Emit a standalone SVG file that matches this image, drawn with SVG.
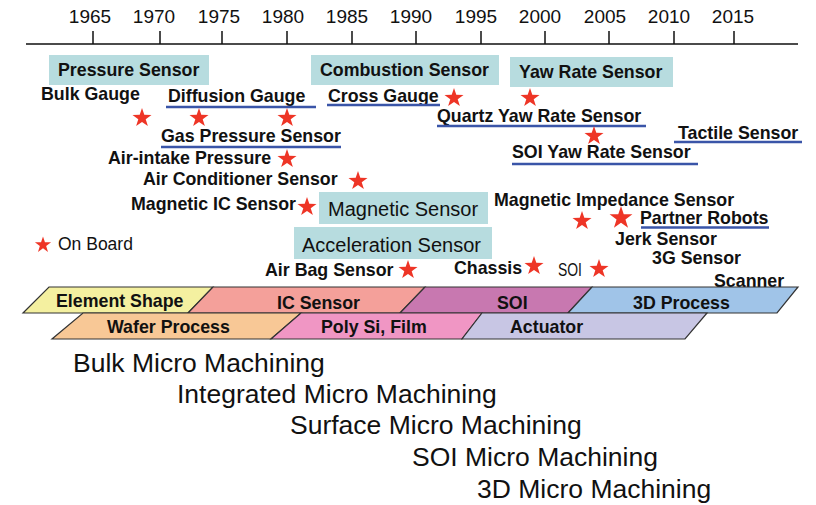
<svg xmlns="http://www.w3.org/2000/svg" xmlns:xlink="http://www.w3.org/1999/xlink" width="816" height="505" viewBox="0 0 816 505">
<style>
text{font-family:"Liberation Sans",Arial,sans-serif;fill:#111}
.yr{font-size:19px;text-anchor:middle}
.b{font-size:17.8px;font-weight:bold}
.box{fill:#b7dcdf}
.bn{font-size:20px}
.ul{stroke:#3a55a8;stroke-width:2.5}
.st{fill:#ee3526}
.band{stroke:#333;stroke-width:1.2}
.big{font-size:26.5px}
.axis{stroke:#111;stroke-width:1.5;fill:none}
</style>
<defs>
<path id="star" d="M0,-10 L2.29,-3.16 L9.51,-3.09 L3.71,1.21 L5.88,8.09 L0,3.9 L-5.88,8.09 L-3.71,1.21 L-9.51,-3.09 L-2.29,-3.16 Z"/>
</defs>
<rect width="816" height="505" fill="#fff"/>
<g id="axis">
<path class="axis" d="M26,44H798M93,31V44M160,31V44M222,31V44M287,31V44M352,31V44M416,31V44M481,31V44M545,31V44M609,31V44M674,31V44M734,31V44"/>
<text class="yr" x="90" y="23">1965</text>
<text class="yr" x="154" y="23">1970</text>
<text class="yr" x="219" y="23">1975</text>
<text class="yr" x="283" y="23">1980</text>
<text class="yr" x="347" y="23">1985</text>
<text class="yr" x="411" y="23">1990</text>
<text class="yr" x="476" y="23">1995</text>
<text class="yr" x="540" y="23">2000</text>
<text class="yr" x="605" y="23">2005</text>
<text class="yr" x="669" y="23">2010</text>
<text class="yr" x="733" y="23">2015</text>
</g>
<g id="pressure-sensor"><rect class="box" x="49" y="55" width="160" height="30"/><text class="b" x="58" y="76">Pressure Sensor</text></g>
<g id="combustion-sensor"><rect class="box" x="311" y="55" width="188" height="30"/><text class="b" x="320" y="76">Combustion Sensor</text></g>
<g id="yaw-rate-sensor"><rect class="box" x="510" y="57" width="163" height="30"/><text class="b" x="519" y="78">Yaw Rate Sensor</text></g>
<g id="magnetic-sensor"><rect class="box" x="319" y="192" width="169" height="32"/><text class="bn" x="328" y="216">Magnetic Sensor</text></g>
<g id="acceleration-sensor"><rect class="box" x="294" y="227" width="198" height="32"/><text class="bn" x="302" y="252">Acceleration Sensor</text></g>
<g id="labels">
<text class="b" x="41" y="100">Bulk Gauge</text>
<g id="diffusion-gauge"><text class="b" x="168" y="102">Diffusion Gauge</text><line class="ul" x1="166" y1="107" x2="316" y2="107"/></g>
<g id="cross-gauge"><text class="b" x="328" y="102">Cross Gauge</text><line class="ul" x1="327" y1="105" x2="440" y2="105"/></g>
<g id="gas-pressure"><text class="b" x="161" y="142">Gas Pressure Sensor</text><line class="ul" x1="161" y1="147" x2="341" y2="147"/></g>
<text class="b" x="108" y="164">Air-intake Pressure</text>
<text class="b" x="143" y="185">Air Conditioner Sensor</text>
<text class="b" x="131" y="210">Magnetic IC Sensor</text>
<text class="b" x="265" y="276">Air Bag Sensor</text>
<g id="quartz-yaw"><text class="b" x="437" y="122">Quartz Yaw Rate Sensor</text><line class="ul" x1="437" y1="126" x2="646" y2="126"/></g>
<g id="tactile"><text class="b" x="678" y="139">Tactile Sensor</text><line class="ul" x1="674" y1="142" x2="802" y2="142"/></g>
<g id="soi-yaw"><text class="b" x="512" y="158">SOI Yaw Rate Sensor</text><line class="ul" x1="512" y1="164" x2="698" y2="164"/></g>
<text class="b" x="494" y="206">Magnetic Impedance Sensor</text>
<g id="partner-robots"><text class="b" x="640" y="224">Partner Robots</text><line class="ul" x1="641" y1="227.5" x2="769" y2="227.5"/></g>
<text class="b" x="615" y="245">Jerk Sensor</text>
<text class="b" x="652" y="264">3G Sensor</text>
<text class="b" x="454" y="274">Chassis</text>
<text x="558" y="276" font-size="18" textLength="24" lengthAdjust="spacingAndGlyphs">SOI</text>
<text class="b" x="714" y="287">Scanner</text>
<text x="58" y="250" font-size="17.5">On Board</text>
</g>
<g id="stars" class="st">
<use href="#star" x="142" y="118"/>
<use href="#star" x="199" y="118"/>
<use href="#star" x="287" y="118"/>
<use href="#star" x="454" y="98"/>
<use href="#star" x="530" y="98"/>
<use href="#star" x="594" y="136"/>
<use href="#star" x="287" y="159"/>
<use href="#star" x="358" y="181"/>
<use href="#star" x="307" y="207"/>
<use href="#star" transform="translate(43,245) scale(0.85)"/>
<use href="#star" x="408" y="270"/>
<use href="#star" x="582" y="221"/>
<use href="#star" transform="translate(621,218) scale(1.2)"/>
<use href="#star" x="534" y="266"/>
<use href="#star" x="599" y="269"/>
</g>
<g id="bands">
<g id="element-shape"><polygon class="band" fill="#f4f0a0" points="49,287 213,287 188,313 23,313"/><text class="b" x="56" y="307">Element Shape</text></g>
<g id="ic-sensor"><polygon class="band" fill="#f4a09a" points="213,287 425,287 400,313 188,313"/><text class="b" x="277" y="309">IC Sensor</text></g>
<g id="soi"><polygon class="band" fill="#c878b0" points="425,287 592,287 568,313 400,313"/><text class="b" x="497" y="309">SOI</text></g>
<g id="3d-process"><polygon class="band" fill="#a0c4e8" points="592,287 798,287 777,313 568,313"/><text class="b" x="633" y="309">3D Process</text></g>
<g id="wafer-process"><polygon class="band" fill="#f8c896" points="83,313 301,313 271,339 52,339"/><text class="b" x="107" y="333">Wafer Process</text></g>
<g id="poly-si"><polygon class="band" fill="#f096c4" points="301,313 482,313 462,339 271,339"/><text class="b" x="321" y="333">Poly Si, Film</text></g>
<g id="actuator"><polygon class="band" fill="#c8c6e4" points="482,313 707,313 685,339 462,339"/><text class="b" x="510" y="333">Actuator</text></g>
</g>
<g id="machining">
<text class="big" x="73" y="372">Bulk Micro Machining</text>
<text class="big" x="177" y="403">Integrated Micro Machining</text>
<text class="big" x="290" y="434">Surface Micro Machining</text>
<text class="big" x="412" y="466">SOI Micro Machining</text>
<text class="big" x="477" y="498">3D Micro Machining</text>
</g>
<g id="connectors"/>
</svg>
